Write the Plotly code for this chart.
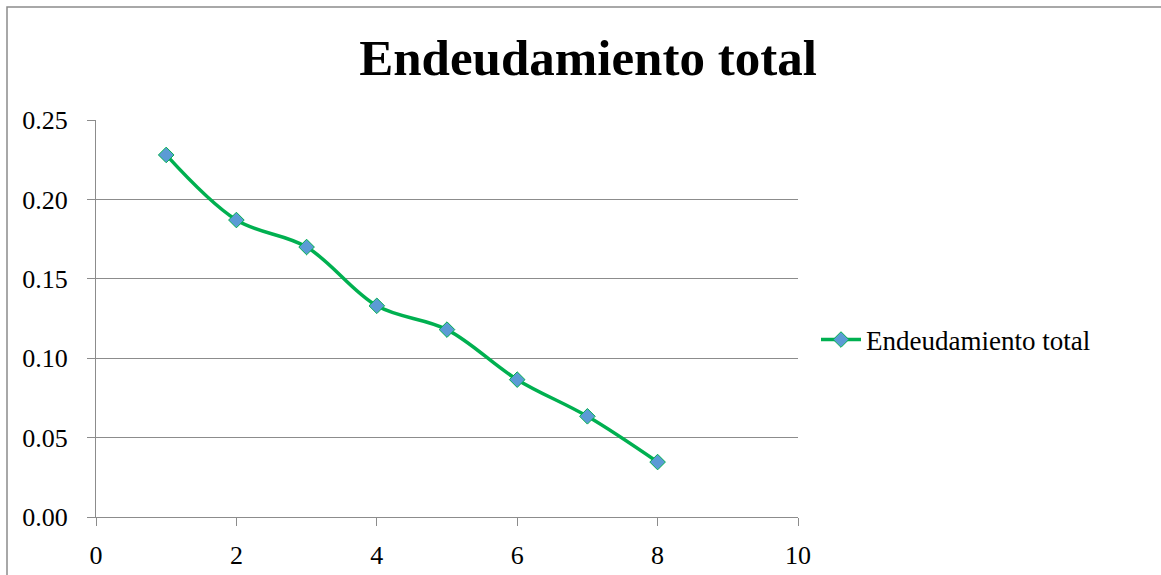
import plotly.graph_objects as go

# Series values
periods = [1, 2, 3, 4, 5, 6, 7, 8]
endeudamiento = [0.228, 0.187, 0.170, 0.133, 0.118, 0.0865, 0.0634, 0.0346]
series_name = "Endeudamiento total"
y_ticks = [0.00, 0.05, 0.10, 0.15, 0.20, 0.25]
x_ticks = [0, 2, 4, 6, 8, 10]

W, H = 1161, 575
L, R, T, B = 96, 363, 120, 58
PW, PH = W - L - R, H - T - B

SERIF = "Liberation Serif, Times New Roman, serif"
GRID = "#8c8c8c"

fig = go.Figure()
fig.add_trace(go.Scatter(
    x=periods, y=endeudamiento, name=series_name,
    mode="lines+markers",
    line=dict(color="#00B050", width=3.5, shape="spline", smoothing=1),
    marker=dict(symbol="diamond", size=12, color="#5B9BD5",
                line=dict(color="#00B050", width=1)),
))

def px_x(p):
    return (p - L) / PW

def px_y(p):
    return (H - B - p) / PH

# outer chart border
fig.add_shape(type="rect", xref="paper", yref="paper",
              x0=px_x(7), x1=px_x(W + 20), y0=px_y(H + 20), y1=px_y(7),
              line=dict(color="#8c8c8c", width=1.5), layer="below")

fig.update_layout(
    width=W, height=H,
    margin=dict(l=L, r=R, t=T, b=B, autoexpand=False),
    paper_bgcolor="white", plot_bgcolor="white",
    font=dict(family=SERIF, color="#000000", size=25),
    title=dict(text="<b>Endeudamiento total</b>", x=(588 / W), xanchor="center",
               y=1 - 57 / H, yanchor="middle", yref="container",
               font=dict(family=SERIF, size=51, color="#000000")),
    showlegend=True,
    legend=dict(x=px_x(816), xanchor="left", y=px_y(340), yanchor="middle",
                itemwidth=40,
                font=dict(family=SERIF, size=27, color="#000000"),
                bgcolor="rgba(0,0,0,0)", borderwidth=0),
    xaxis=dict(range=[0, 10], tickvals=x_ticks, ticktext=[str(v) for v in x_ticks],
               automargin=False,
               showgrid=False, zeroline=False, showline=True, linecolor=GRID, linewidth=1.2,
               ticks="outside", ticklen=8, tickcolor=GRID, tickwidth=1.2,
               ticklabelstandoff=7,
               tickfont=dict(family=SERIF, size=26, color="#000000")),
    yaxis=dict(range=[0, 0.25], tickvals=y_ticks, tickformat=".2f",
               automargin=False,
               showgrid=True, gridcolor=GRID, gridwidth=1.2, zeroline=False,
               showline=True, linecolor=GRID, linewidth=1.2,
               ticks="outside", ticklen=8, tickcolor=GRID, tickwidth=1.2,
               ticklabelstandoff=14,
               tickfont=dict(family=SERIF, size=26, color="#000000")),
)

fig.write_html("out.html")
